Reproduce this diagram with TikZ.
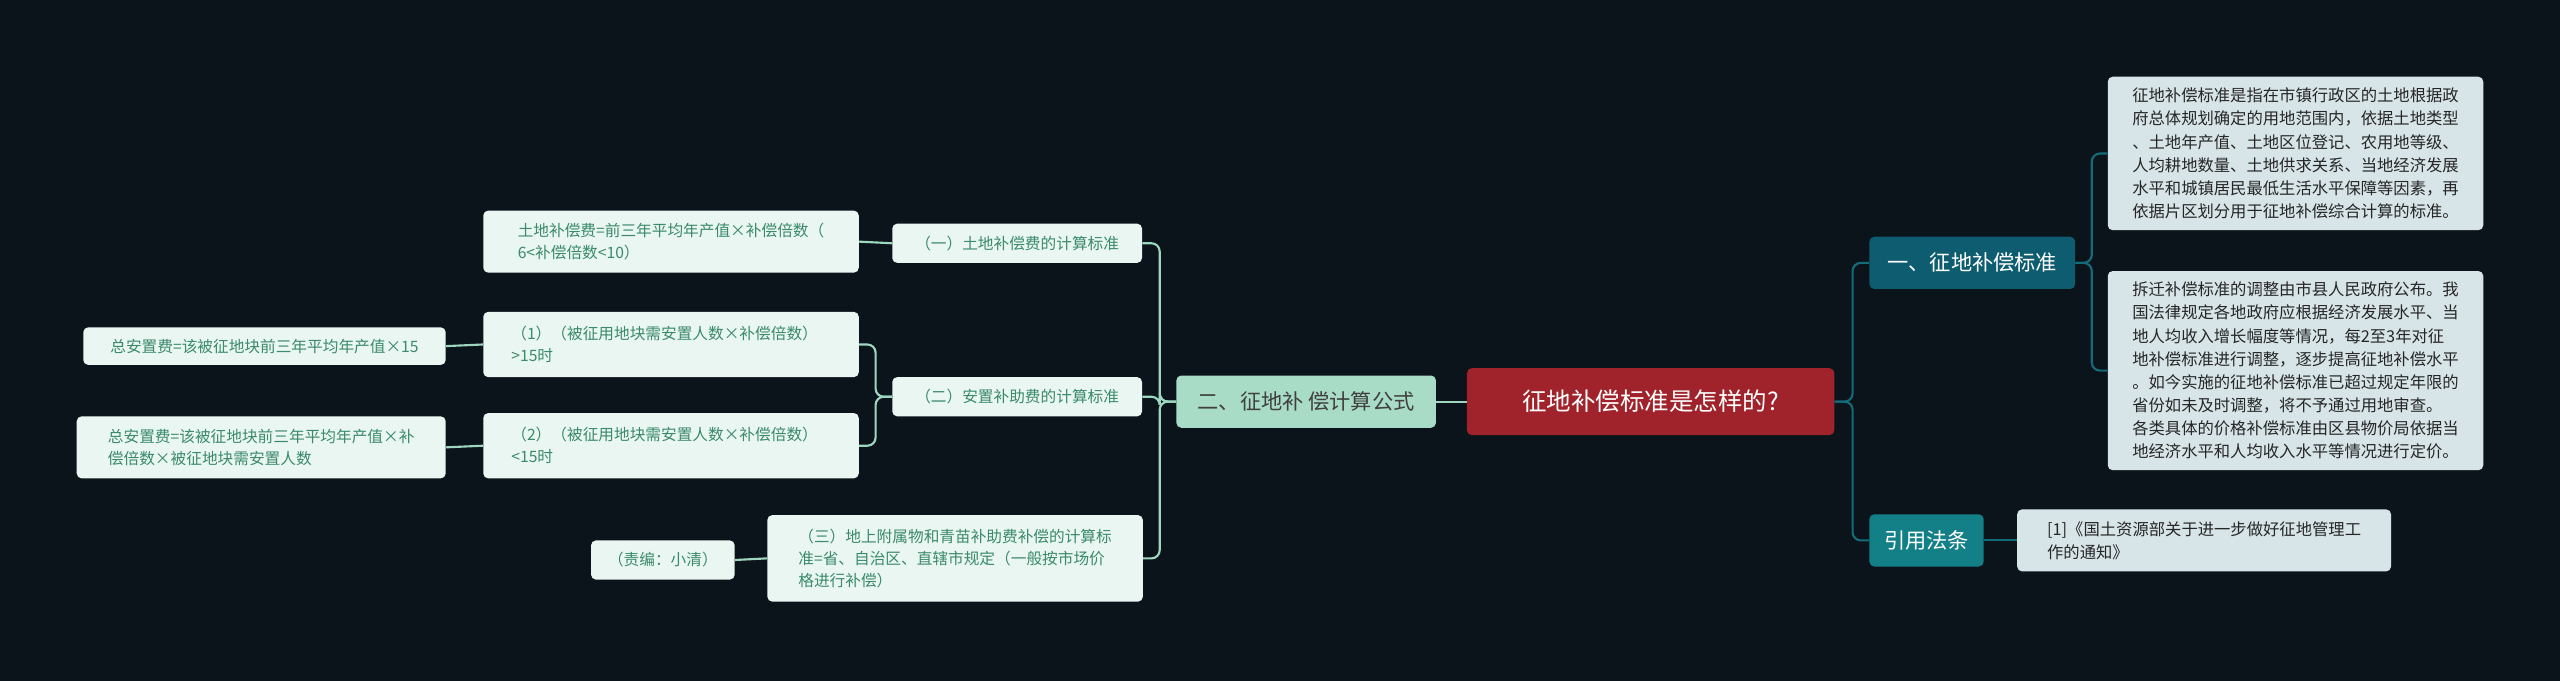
\documentclass[tikz,border=0pt]{standalone}
\usepackage{fontspec}
\setmainfont{Noto Sans CJK SC}
\definecolor{bgcol}{HTML}{0B141A}
\definecolor{rootcol}{HTML}{A0232B}
\definecolor{tealA}{HTML}{0E5C70}
\definecolor{tealB}{HTML}{138088}
\definecolor{greenA}{HTML}{A8DCC6}
\definecolor{leafG}{HTML}{EAF6F1}
\definecolor{leafGtxt}{HTML}{3A8A6C}
\definecolor{leafB}{HTML}{D7E4E8}
\definecolor{lineG}{HTML}{9ED6BF}
\definecolor{lineT}{HTML}{146B7A}

\begin{document}
\begin{tikzpicture}[x=1pt,y=-1pt,
        base/.style={rounded corners=3pt,inner sep=0pt,anchor=center},
        rootnode/.style={base,fill=rootcol,text=white,font=\fontsize{15}{18}\selectfont,
            minimum width=225pt,minimum height=41pt},
        maintop/.style={base,text=white,font=\fontsize{13}{16}\selectfont,minimum height=32pt},
        mainleft/.style={base,fill=greenA,text=black!75,font=\fontsize{13}{16}\selectfont,minimum height=32pt},
        gleaf/.style={base,fill=leafG,text=leafGtxt,font=\fontsize{9.6}{13.5}\selectfont,align=left},
        bleaf/.style={base,fill=leafB,text=black!85,font=\fontsize{10}{14.2}\selectfont,align=left},
        glink/.style={draw=lineG,line width=1.3pt,rounded corners=5pt},
        tlink/.style={draw=lineT,line width=1.3pt,rounded corners=5pt},
    ]
    \fill[bgcol] (0,0) rectangle (1568,417);
    \useasboundingbox (0,0) rectangle (1568,417);

    % centre and right side
    \node[rootnode] (root) at (1011,246) {征地补偿标准是怎样的?};
    \node[maintop,fill=tealA,minimum width=126pt] (std) at (1208,161) {一、征地补偿标准};
    \node[maintop,fill=tealB,minimum width=70pt] (law) at (1180,331) {引用法条};
    \node[bleaf,minimum width=230pt,minimum height=94pt] (stdA) at (1406,94)
        {征地补偿标准是指在市镇行政区的土地根据政\\府总体规划确定的用地范围内，依据土地类型\\、土地年产值、土地区位登记、农用地等级、\\人均耕地数量、土地供求关系、当地经济发展\\水平和城镇居民最低生活水平保障等因素，再\\依据片区划分用于征地补偿综合计算的标准。};
    \node[bleaf,minimum width=230pt,minimum height=122pt] (stdB) at (1406,227)
        {拆迁补偿标准的调整由市县人民政府公布。我\\国法律规定各地政府应根据经济发展水平、当\\地人均收入增长幅度等情况，每2至3年对征\\地补偿标准进行调整，逐步提高征地补偿水平\\。如今实施的征地补偿标准已超过规定年限的\\省份如未及时调整，将不予通过用地审查。\\各类具体的价格补偿标准由区县物价局依据当\\地经济水平和人均收入水平等情况进行定价。};
    \node[bleaf,minimum width=229pt,minimum height=38pt] (lawA) at (1350,331)
        {[1]《国土资源部关于进一步做好征地管理工\\作的通知》\hspace*{102pt}};

    % left side
    \node[mainleft,minimum width=159pt] (calc) at (800,246) {二、征地补 偿计算公式};
    \node[gleaf,minimum width=153pt,minimum height=24pt] (c1) at (623,149) {（一）土地补偿费的计算标准};
    \node[gleaf,minimum width=153pt,minimum height=24pt] (c2) at (623,243) {（二）安置补助费的计算标准};
    \node[gleaf,minimum width=230pt,minimum height=53pt] (c3) at (585,342)
        {（三）地上附属物和青苗补助费补偿的计算标\\准=省、自治区、直辖市规定（一般按市场价\\格进行补偿）};
    \node[gleaf,minimum width=230pt,minimum height=38pt] (c1a) at (411,148)
        {土地补偿费=前三年平均年产值×补偿倍数（\\6<补偿倍数<10）\hspace*{110pt}};
    \node[gleaf,minimum width=230pt,minimum height=40pt] (c2a) at (411,211)
        {（1）（被征用地块需安置人数×补偿倍数）\\>15时\hspace*{170pt}};
    \node[gleaf,minimum width=230pt,minimum height=40pt] (c2b) at (411,273)
        {（2）（被征用地块需安置人数×补偿倍数）\\<15时\hspace*{170pt}};
    \node[gleaf,minimum width=222pt,minimum height=23pt] (c2a1) at (162,212) {总安置费=该被征地块前三年平均年产值×15};
    \node[gleaf,minimum width=226pt,minimum height=38pt] (c2b1) at (160,274)
        {总安置费=该被征地块前三年平均年产值×补\\偿倍数×被征地块需安置人数};
    \node[gleaf,minimum width=88pt,minimum height=24pt] (c3a) at (406,343) {（责编：小清）};

    % connectors
    \draw[glink] (root.west) -- (calc.east);
    \foreach \t in {std,law}
        \draw[tlink] (root.east) -- ++(11,0) |- (\t.west);
    \foreach \t in {stdA,stdB}
        \draw[tlink] (std.east) -- ++(10,0) |- (\t.west);
    \draw[tlink] (law.east) -- (lawA.west);
    \foreach \t in {c1,c2,c3}
        \draw[glink] (calc.west) -- ++(-10,0) |- (\t.east);
    \draw[glink] (c1.west) -- (c1a.east);
    \foreach \t in {c2a,c2b}
        \draw[glink] (c2.west) -- ++(-10,0) |- (\t.east);
    \draw[glink] (c2a.west) -- (c2a1.east);
    \draw[glink] (c2b.west) -- (c2b1.east);
    \draw[glink] (c3.west) -- (c3a.east);
\end{tikzpicture}
\end{document}
